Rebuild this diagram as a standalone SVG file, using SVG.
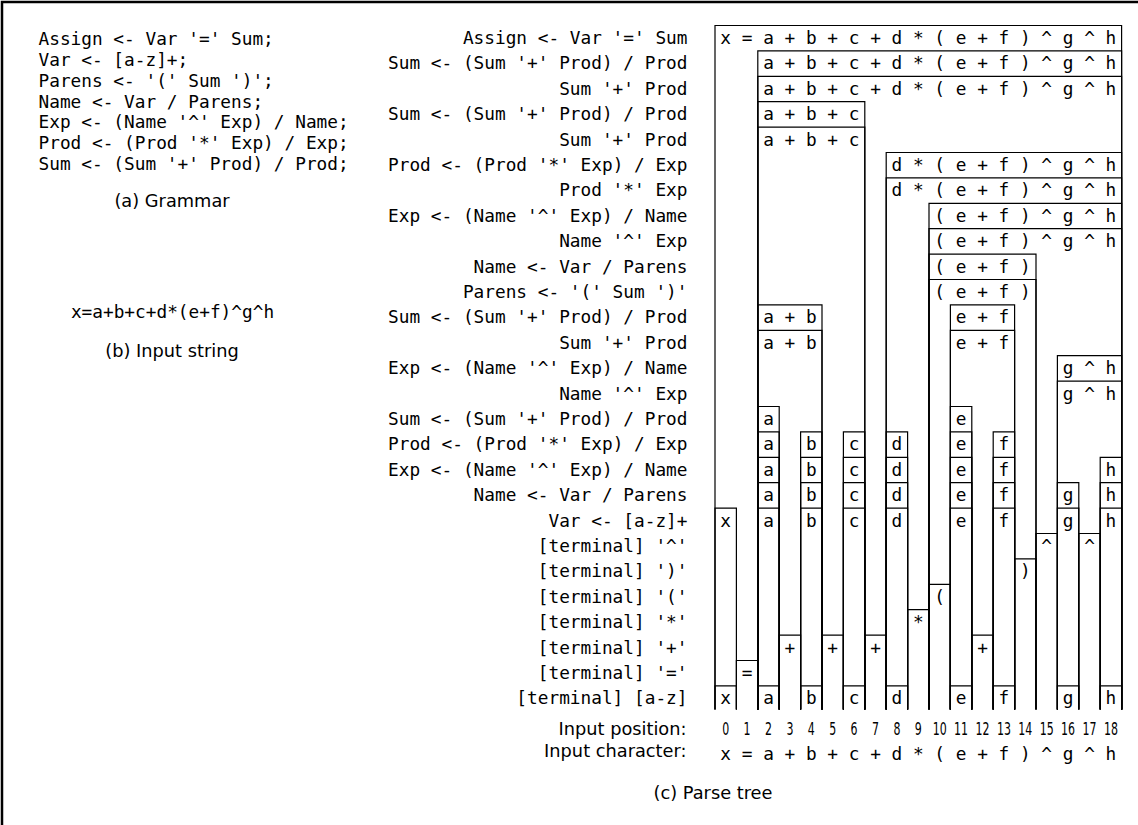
<svg xmlns="http://www.w3.org/2000/svg" width="1138" height="825" viewBox="0 0 1138 825">
<style>
.mono{font-family:"DejaVu Sans Mono","Liberation Mono",monospace;font-size:17.77px;fill:#000}
.sans{font-family:"DejaVu Sans","Liberation Sans",sans-serif;font-size:17.77px;fill:#000}
.num{font-family:"DejaVu Sans","Liberation Sans",sans-serif;font-size:17px;fill:#000;text-anchor:middle}
.lab{text-anchor:end}
.mid{text-anchor:middle}
.box path{fill:none;stroke:#000;stroke-width:1.2}
.box text{font-family:"DejaVu Sans Mono","Liberation Mono",monospace;font-size:17.77px;fill:#000;text-anchor:middle}
</style>
<path d="M2 825V2H1138" fill="none" stroke="#000" stroke-width="2.5"/>
<g id="grammar" class="mono">
<text x="38.5" y="44.8">Assign &lt;- Var '=' Sum;</text>
<text x="38.5" y="65.7">Var &lt;- [a-z]+;</text>
<text x="38.5" y="86.6">Parens &lt;- '(' Sum ')';</text>
<text x="38.5" y="107.5">Name &lt;- Var / Parens;</text>
<text x="38.5" y="128.4">Exp &lt;- (Name '^' Exp) / Name;</text>
<text x="38.5" y="149.3">Prod &lt;- (Prod '*' Exp) / Exp;</text>
<text x="38.5" y="170.2">Sum &lt;- (Sum '+' Prod) / Prod;</text>
</g>
<text class="sans mid" x="172" y="206.8">(a) Grammar</text>
<text id="input" class="mono mid" x="172.5" y="317.5">x=a+b+c+d*(e+f)^g^h</text>
<text class="sans mid" x="172" y="356.5">(b) Input string</text>
<g id="labels" class="mono lab">
<text x="687.5" y="44">Assign &lt;- Var '=' Sum</text>
<text x="687.5" y="69.4">Sum &lt;- (Sum '+' Prod) / Prod</text>
<text x="687.5" y="94.8">Sum '+' Prod</text>
<text x="687.5" y="120.2">Sum &lt;- (Sum '+' Prod) / Prod</text>
<text x="687.5" y="145.6">Sum '+' Prod</text>
<text x="687.5" y="171">Prod &lt;- (Prod '*' Exp) / Exp</text>
<text x="687.5" y="196.4">Prod '*' Exp</text>
<text x="687.5" y="221.8">Exp &lt;- (Name '^' Exp) / Name</text>
<text x="687.5" y="247.2">Name '^' Exp</text>
<text x="687.5" y="272.6">Name &lt;- Var / Parens</text>
<text x="687.5" y="298">Parens &lt;- '(' Sum ')'</text>
<text x="687.5" y="323.4">Sum &lt;- (Sum '+' Prod) / Prod</text>
<text x="687.5" y="348.8">Sum '+' Prod</text>
<text x="687.5" y="374.2">Exp &lt;- (Name '^' Exp) / Name</text>
<text x="687.5" y="399.6">Name '^' Exp</text>
<text x="687.5" y="425">Sum &lt;- (Sum '+' Prod) / Prod</text>
<text x="687.5" y="450.4">Prod &lt;- (Prod '*' Exp) / Exp</text>
<text x="687.5" y="475.8">Exp &lt;- (Name '^' Exp) / Name</text>
<text x="687.5" y="501.2">Name &lt;- Var / Parens</text>
<text x="687.5" y="526.6">Var &lt;- [a-z]+</text>
<text x="687.5" y="552">[terminal] '^'</text>
<text x="687.5" y="577.4">[terminal] ')'</text>
<text x="687.5" y="602.8">[terminal] '('</text>
<text x="687.5" y="628.2">[terminal] '*'</text>
<text x="687.5" y="653.6">[terminal] '+'</text>
<text x="687.5" y="679">[terminal] '='</text>
<text x="687.5" y="704.4">[terminal] [a-z]</text>
</g>
<g id="tree" class="box">
<g id="n-assign"><path d="M715 709.5V25.5H1121.6V709.5"/><text x="725.7 747.1 768.5 789.9 811.3 832.7 854.1 875.5 896.9 918.3 939.7 961.1 982.5 1003.9 1025.3 1046.7 1068.1 1089.5 1110.9" y="44">x=a+b+c+d*(e+f)^g^h</text></g>
<g id="n-sum1"><path d="M757.8 709.5V50.9H1121.6V709.5"/><text x="768.5 789.9 811.3 832.7 854.1 875.5 896.9 918.3 939.7 961.1 982.5 1003.9 1025.3 1046.7 1068.1 1089.5 1110.9" y="69.4">a+b+c+d*(e+f)^g^h</text></g>
<g id="n-seq1"><path d="M757.8 709.5V76.3H1121.6V709.5"/><text x="768.5 789.9 811.3 832.7 854.1 875.5 896.9 918.3 939.7 961.1 982.5 1003.9 1025.3 1046.7 1068.1 1089.5 1110.9" y="94.8">a+b+c+d*(e+f)^g^h</text></g>
<g id="n-sum2"><path d="M757.8 709.5V101.7H864.8V709.5"/><text x="768.5 789.9 811.3 832.7 854.1" y="120.2">a+b+c</text></g>
<g id="n-seq2"><path d="M757.8 709.5V127.1H864.8V709.5"/><text x="768.5 789.9 811.3 832.7 854.1" y="145.6">a+b+c</text></g>
<g id="n-prod1"><path d="M886.2 709.5V152.5H1121.6V709.5"/><text x="896.9 918.3 939.7 961.1 982.5 1003.9 1025.3 1046.7 1068.1 1089.5 1110.9" y="171">d*(e+f)^g^h</text></g>
<g id="n-seqp1"><path d="M886.2 709.5V177.9H1121.6V709.5"/><text x="896.9 918.3 939.7 961.1 982.5 1003.9 1025.3 1046.7 1068.1 1089.5 1110.9" y="196.4">d*(e+f)^g^h</text></g>
<g id="n-exp1"><path d="M929 709.5V203.3H1121.6V709.5"/><text x="939.7 961.1 982.5 1003.9 1025.3 1046.7 1068.1 1089.5 1110.9" y="221.8">(e+f)^g^h</text></g>
<g id="n-seqe1"><path d="M929 709.5V228.7H1121.6V709.5"/><text x="939.7 961.1 982.5 1003.9 1025.3 1046.7 1068.1 1089.5 1110.9" y="247.2">(e+f)^g^h</text></g>
<g id="n-name1"><path d="M929 709.5V254.1H1036V709.5"/><text x="939.7 961.1 982.5 1003.9 1025.3" y="272.6">(e+f)</text></g>
<g id="n-parens"><path d="M929 709.5V279.5H1036V709.5"/><text x="939.7 961.1 982.5 1003.9 1025.3" y="298">(e+f)</text></g>
<g id="n-sum3"><path d="M757.8 709.5V304.9H822V709.5"/><text x="768.5 789.9 811.3" y="323.4">a+b</text></g>
<g id="n-sum4"><path d="M950.4 709.5V304.9H1014.6V709.5"/><text x="961.1 982.5 1003.9" y="323.4">e+f</text></g>
<g id="n-seq3"><path d="M757.8 709.5V330.3H822V709.5"/><text x="768.5 789.9 811.3" y="348.8">a+b</text></g>
<g id="n-seq4"><path d="M950.4 709.5V330.3H1014.6V709.5"/><text x="961.1 982.5 1003.9" y="348.8">e+f</text></g>
<g id="n-exp2"><path d="M1057.4 709.5V355.7H1121.6V709.5"/><text x="1068.1 1089.5 1110.9" y="374.2">g^h</text></g>
<g id="n-seqe2"><path d="M1057.4 709.5V381.1H1121.6V709.5"/><text x="1068.1 1089.5 1110.9" y="399.6">g^h</text></g>
<g id="n-sum-a"><path d="M757.8 709.5V406.5H779.2V709.5"/><text x="768.5" y="425">a</text></g>
<g id="n-sum-e"><path d="M950.4 709.5V406.5H971.8V709.5"/><text x="961.1" y="425">e</text></g>
<g id="n-prod-a"><path d="M757.8 709.5V431.9H779.2V709.5"/><text x="768.5" y="450.4">a</text></g>
<g id="n-prod-b"><path d="M800.6 709.5V431.9H822V709.5"/><text x="811.3" y="450.4">b</text></g>
<g id="n-prod-c"><path d="M843.4 709.5V431.9H864.8V709.5"/><text x="854.1" y="450.4">c</text></g>
<g id="n-prod-d"><path d="M886.2 709.5V431.9H907.6V709.5"/><text x="896.9" y="450.4">d</text></g>
<g id="n-prod-e"><path d="M950.4 709.5V431.9H971.8V709.5"/><text x="961.1" y="450.4">e</text></g>
<g id="n-prod-f"><path d="M993.2 709.5V431.9H1014.6V709.5"/><text x="1003.9" y="450.4">f</text></g>
<g id="n-exp-a"><path d="M757.8 709.5V457.3H779.2V709.5"/><text x="768.5" y="475.8">a</text></g>
<g id="n-exp-b"><path d="M800.6 709.5V457.3H822V709.5"/><text x="811.3" y="475.8">b</text></g>
<g id="n-exp-c"><path d="M843.4 709.5V457.3H864.8V709.5"/><text x="854.1" y="475.8">c</text></g>
<g id="n-exp-d"><path d="M886.2 709.5V457.3H907.6V709.5"/><text x="896.9" y="475.8">d</text></g>
<g id="n-exp-e"><path d="M950.4 709.5V457.3H971.8V709.5"/><text x="961.1" y="475.8">e</text></g>
<g id="n-exp-f"><path d="M993.2 709.5V457.3H1014.6V709.5"/><text x="1003.9" y="475.8">f</text></g>
<g id="n-exp-h"><path d="M1100.2 709.5V457.3H1121.6V709.5"/><text x="1110.9" y="475.8">h</text></g>
<g id="n-name-a"><path d="M757.8 709.5V482.7H779.2V709.5"/><text x="768.5" y="501.2">a</text></g>
<g id="n-name-b"><path d="M800.6 709.5V482.7H822V709.5"/><text x="811.3" y="501.2">b</text></g>
<g id="n-name-c"><path d="M843.4 709.5V482.7H864.8V709.5"/><text x="854.1" y="501.2">c</text></g>
<g id="n-name-d"><path d="M886.2 709.5V482.7H907.6V709.5"/><text x="896.9" y="501.2">d</text></g>
<g id="n-name-e"><path d="M950.4 709.5V482.7H971.8V709.5"/><text x="961.1" y="501.2">e</text></g>
<g id="n-name-f"><path d="M993.2 709.5V482.7H1014.6V709.5"/><text x="1003.9" y="501.2">f</text></g>
<g id="n-name-g"><path d="M1057.4 709.5V482.7H1078.8V709.5"/><text x="1068.1" y="501.2">g</text></g>
<g id="n-name-h"><path d="M1100.2 709.5V482.7H1121.6V709.5"/><text x="1110.9" y="501.2">h</text></g>
<g id="n-var-x"><path d="M715 709.5V508.1H736.4V709.5"/><text x="725.7" y="526.6">x</text></g>
<g id="n-var-a"><path d="M757.8 709.5V508.1H779.2V709.5"/><text x="768.5" y="526.6">a</text></g>
<g id="n-var-b"><path d="M800.6 709.5V508.1H822V709.5"/><text x="811.3" y="526.6">b</text></g>
<g id="n-var-c"><path d="M843.4 709.5V508.1H864.8V709.5"/><text x="854.1" y="526.6">c</text></g>
<g id="n-var-d"><path d="M886.2 709.5V508.1H907.6V709.5"/><text x="896.9" y="526.6">d</text></g>
<g id="n-var-e"><path d="M950.4 709.5V508.1H971.8V709.5"/><text x="961.1" y="526.6">e</text></g>
<g id="n-var-f"><path d="M993.2 709.5V508.1H1014.6V709.5"/><text x="1003.9" y="526.6">f</text></g>
<g id="n-var-g"><path d="M1057.4 709.5V508.1H1078.8V709.5"/><text x="1068.1" y="526.6">g</text></g>
<g id="n-var-h"><path d="M1100.2 709.5V508.1H1121.6V709.5"/><text x="1110.9" y="526.6">h</text></g>
<g id="n-t-pow1"><path d="M1036 709.5V533.5H1057.4V709.5"/><text x="1046.7" y="552">^</text></g>
<g id="n-t-pow2"><path d="M1078.8 709.5V533.5H1100.2V709.5"/><text x="1089.5" y="552">^</text></g>
<g id="n-t-rpar"><path d="M1014.6 709.5V558.9H1036V709.5"/><text x="1025.3" y="577.4">)</text></g>
<g id="n-t-lpar"><path d="M929 709.5V584.3H950.4V709.5"/><text x="939.7" y="602.8">(</text></g>
<g id="n-t-mul"><path d="M907.6 709.5V609.7H929V709.5"/><text x="918.3" y="628.2">*</text></g>
<g id="n-t-plus1"><path d="M779.2 709.5V635.1H800.6V709.5"/><text x="789.9" y="653.6">+</text></g>
<g id="n-t-plus2"><path d="M822 709.5V635.1H843.4V709.5"/><text x="832.7" y="653.6">+</text></g>
<g id="n-t-plus3"><path d="M864.8 709.5V635.1H886.2V709.5"/><text x="875.5" y="653.6">+</text></g>
<g id="n-t-plus4"><path d="M971.8 709.5V635.1H993.2V709.5"/><text x="982.5" y="653.6">+</text></g>
<g id="n-t-eq"><path d="M736.4 709.5V660.5H757.8V709.5"/><text x="747.1" y="679">=</text></g>
<g id="n-t-x"><path d="M715 709.5V685.9H736.4V709.5"/><text x="725.7" y="704.4">x</text></g>
<g id="n-t-a"><path d="M757.8 709.5V685.9H779.2V709.5"/><text x="768.5" y="704.4">a</text></g>
<g id="n-t-b"><path d="M800.6 709.5V685.9H822V709.5"/><text x="811.3" y="704.4">b</text></g>
<g id="n-t-c"><path d="M843.4 709.5V685.9H864.8V709.5"/><text x="854.1" y="704.4">c</text></g>
<g id="n-t-d"><path d="M886.2 709.5V685.9H907.6V709.5"/><text x="896.9" y="704.4">d</text></g>
<g id="n-t-e"><path d="M950.4 709.5V685.9H971.8V709.5"/><text x="961.1" y="704.4">e</text></g>
<g id="n-t-f"><path d="M993.2 709.5V685.9H1014.6V709.5"/><text x="1003.9" y="704.4">f</text></g>
<g id="n-t-g"><path d="M1057.4 709.5V685.9H1078.8V709.5"/><text x="1068.1" y="704.4">g</text></g>
<g id="n-t-h"><path d="M1100.2 709.5V685.9H1121.6V709.5"/><text x="1110.9" y="704.4">h</text></g>
</g>
<text class="sans lab" x="686.5" y="734.5">Input position:</text>
<text class="sans lab" x="686.5" y="757">Input character:</text>
<g id="positions" class="num">
<text x="725.7" y="735" textLength="7" lengthAdjust="spacingAndGlyphs">0</text>
<text x="747.1" y="735" textLength="7" lengthAdjust="spacingAndGlyphs">1</text>
<text x="768.5" y="735" textLength="7" lengthAdjust="spacingAndGlyphs">2</text>
<text x="789.9" y="735" textLength="7" lengthAdjust="spacingAndGlyphs">3</text>
<text x="811.3" y="735" textLength="7" lengthAdjust="spacingAndGlyphs">4</text>
<text x="832.7" y="735" textLength="7" lengthAdjust="spacingAndGlyphs">5</text>
<text x="854.1" y="735" textLength="7" lengthAdjust="spacingAndGlyphs">6</text>
<text x="875.5" y="735" textLength="7" lengthAdjust="spacingAndGlyphs">7</text>
<text x="896.9" y="735" textLength="7" lengthAdjust="spacingAndGlyphs">8</text>
<text x="918.3" y="735" textLength="7" lengthAdjust="spacingAndGlyphs">9</text>
<text x="939.7" y="735" textLength="14" lengthAdjust="spacingAndGlyphs">10</text>
<text x="961.1" y="735" textLength="14" lengthAdjust="spacingAndGlyphs">11</text>
<text x="982.5" y="735" textLength="14" lengthAdjust="spacingAndGlyphs">12</text>
<text x="1003.9" y="735" textLength="14" lengthAdjust="spacingAndGlyphs">13</text>
<text x="1025.3" y="735" textLength="14" lengthAdjust="spacingAndGlyphs">14</text>
<text x="1046.7" y="735" textLength="14" lengthAdjust="spacingAndGlyphs">15</text>
<text x="1068.1" y="735" textLength="14" lengthAdjust="spacingAndGlyphs">16</text>
<text x="1089.5" y="735" textLength="14" lengthAdjust="spacingAndGlyphs">17</text>
<text x="1110.9" y="735" textLength="14" lengthAdjust="spacingAndGlyphs">18</text>
</g>
<text id="chars" class="mono mid" x="725.7 747.1 768.5 789.9 811.3 832.7 854.1 875.5 896.9 918.3 939.7 961.1 982.5 1003.9 1025.3 1046.7 1068.1 1089.5 1110.9" y="760">x=a+b+c+d*(e+f)^g^h</text>
<text class="sans mid" x="713" y="799">(c) Parse tree</text>
</svg>
